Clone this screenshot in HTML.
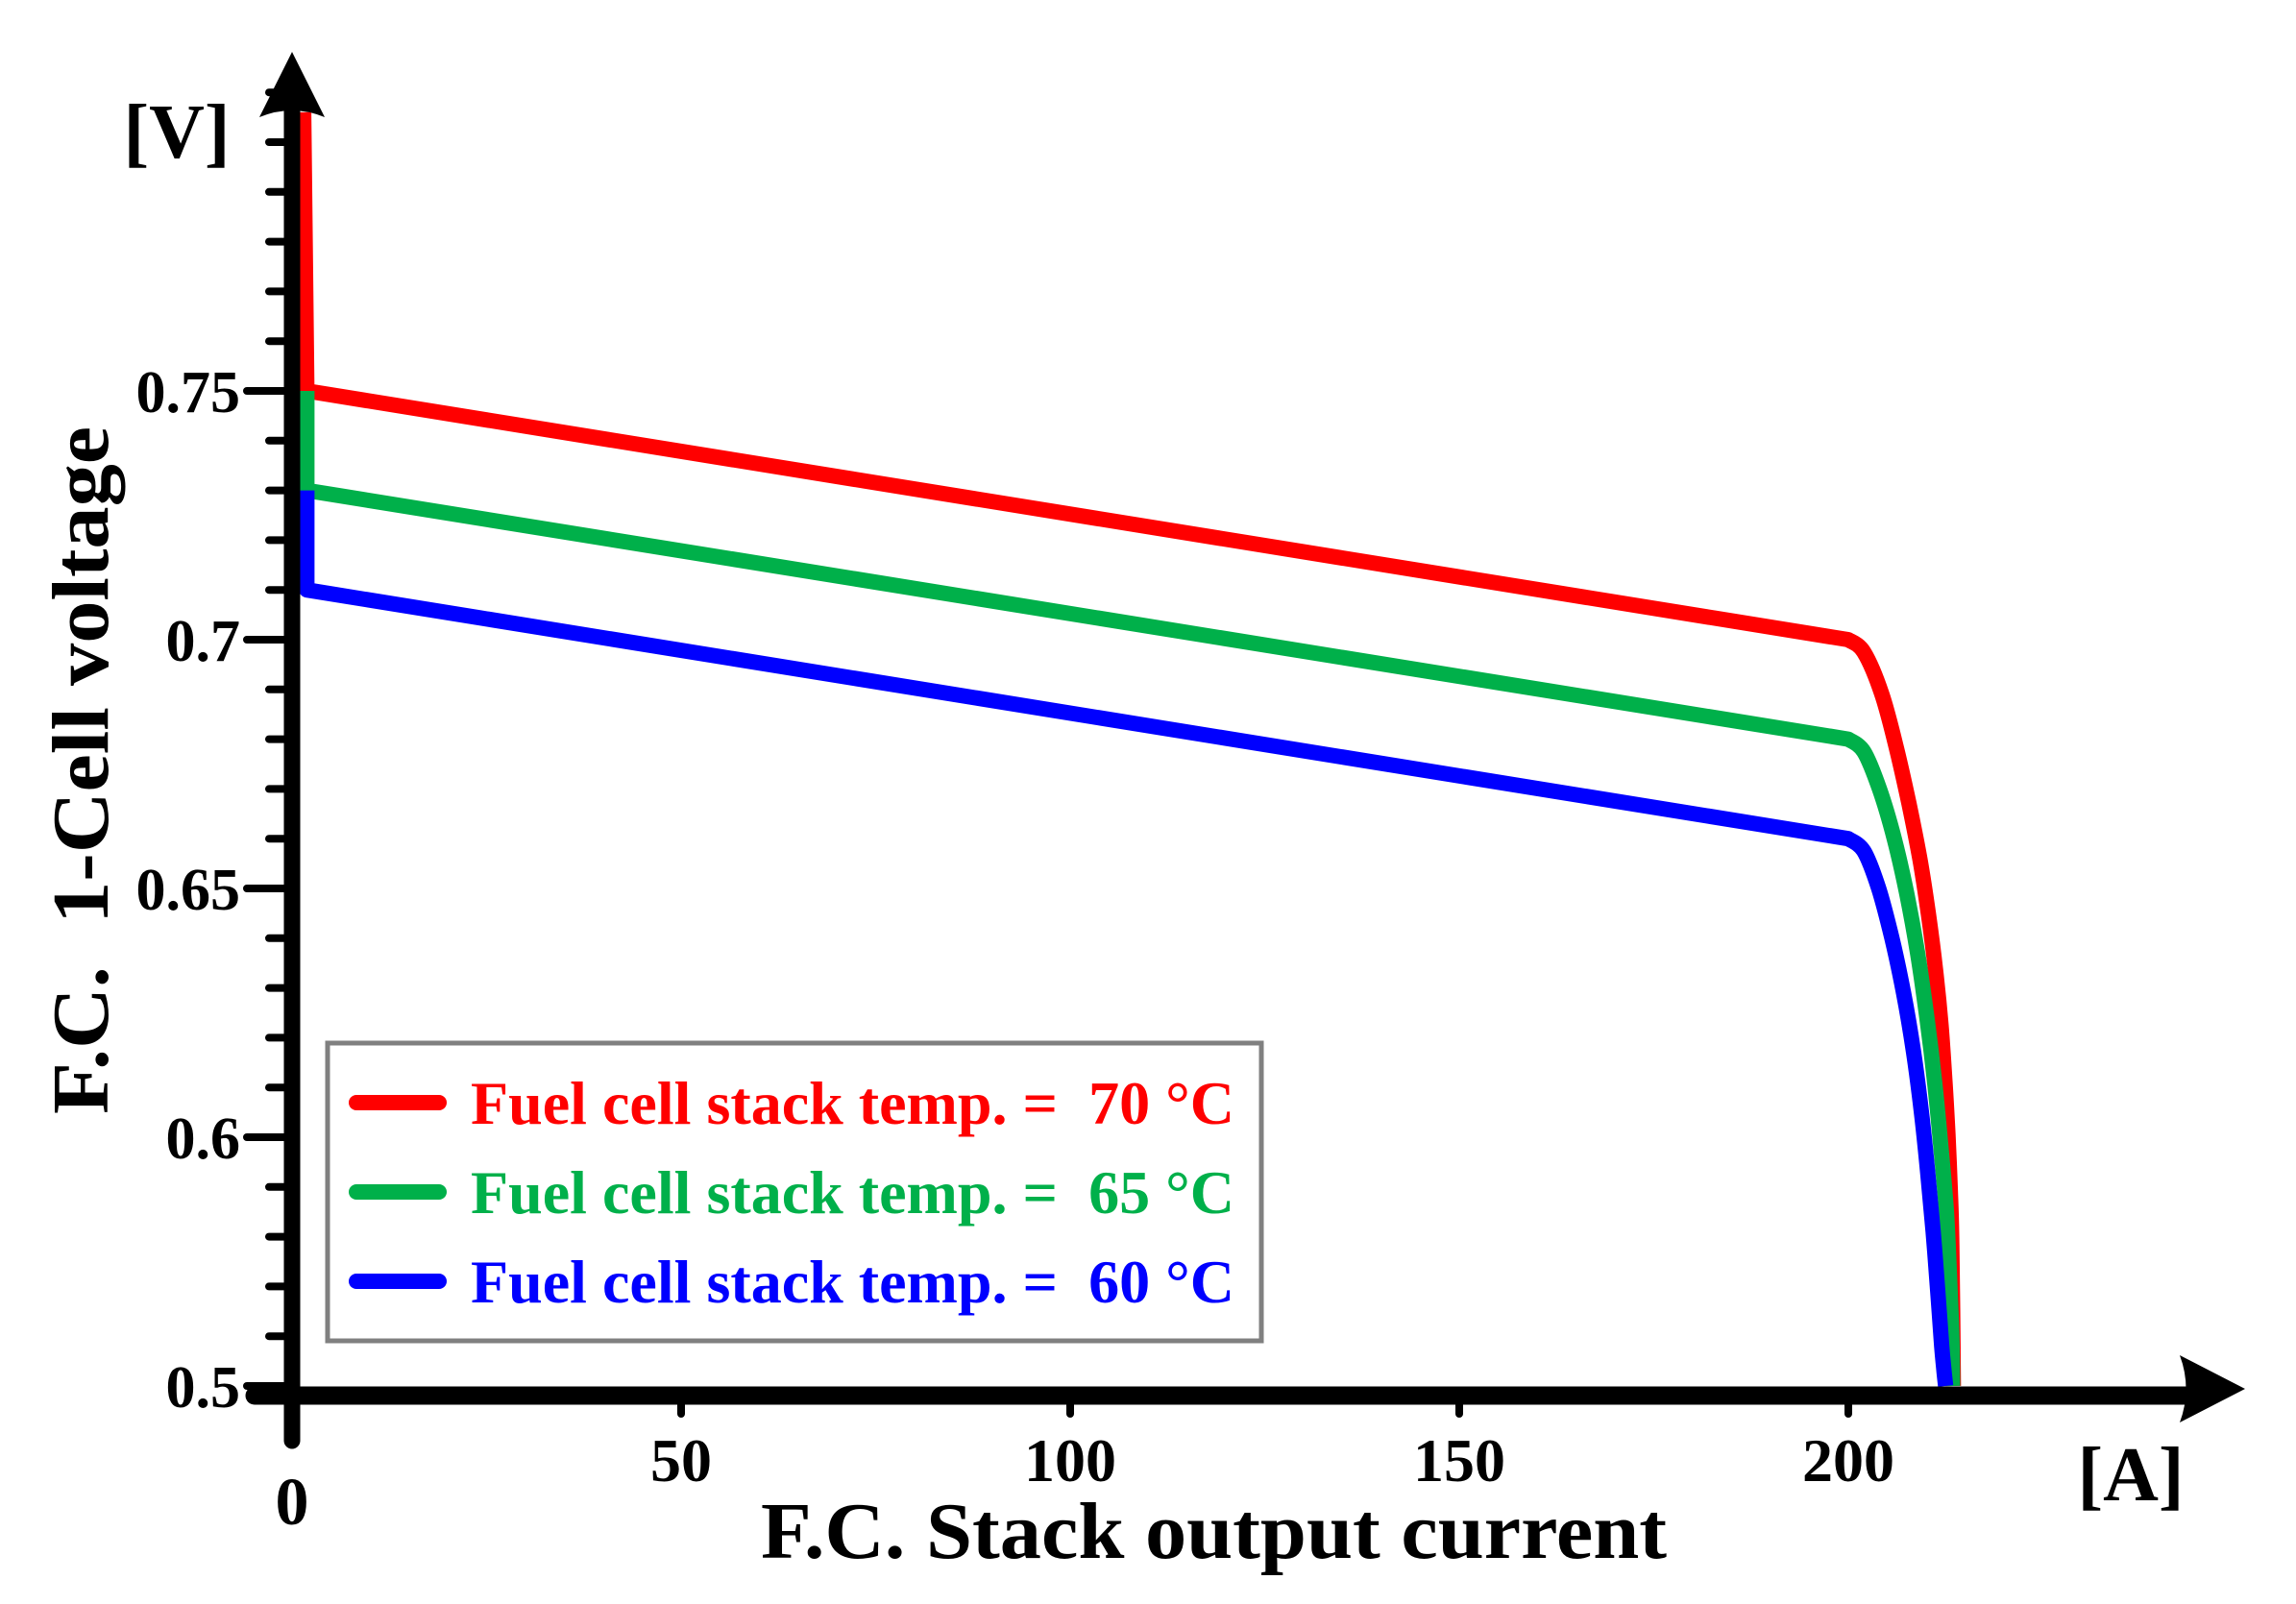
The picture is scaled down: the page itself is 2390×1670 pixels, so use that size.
<!DOCTYPE html>
<html><head><meta charset="utf-8">
<style>html,body{margin:0;padding:0;background:#fff;}svg{display:block;} text{white-space:pre;}</style>
</head><body>
<svg id="chart" width="2390" height="1670" viewBox="0 0 2390 1670" xmlns="http://www.w3.org/2000/svg" font-family="'Liberation Serif', serif" font-weight="bold">
<rect width="2390" height="1670" fill="#fff"/>
<g id="series"></g>
<g id="axes"></g>
<g id="legend"></g>
</svg>
<script>
const xTicks = [0, 50, 100, 150, 200];
const xTickLabels = ["0", "50", "100", "150", "200"];
const yTicks = [0.55, 0.6, 0.65, 0.7, 0.75];
const yTickLabels = ["0.5", "0.6", "0.65", "0.7", "0.75"];
const seriesNames = ["Fuel cell stack temp. =  70 °C", "Fuel cell stack temp. =  65 °C", "Fuel cell stack temp. =  60 °C"];
const seriesColors = ["#ff0000", "#00b04a", "#0000ff"];
const redI = [1.5, 1.9, 200, 202.0, 204.3, 206.2, 207.8, 209.2, 210.3, 211.2, 211.9, 212.4, 212.8, 213.1, 213.3, 213.5];
const redV = [0.806, 0.75, 0.70, 0.6975, 0.6891, 0.6781, 0.667, 0.6559, 0.6448, 0.6337, 0.6227, 0.6116, 0.6005, 0.5894, 0.5783, 0.55];
const greenI = [1.9, 1.9, 200, 202.0, 204.0, 205.9, 207.5, 208.9, 210.1, 211.1, 211.9, 212.6, 213.0, 213.3, 213.4];
const greenV = [0.75, 0.73, 0.68, 0.6775, 0.6700, 0.6600, 0.6490, 0.6370, 0.6240, 0.6110, 0.5980, 0.5850, 0.5720, 0.5600, 0.55];
const blueI = [1.9, 1.9, 200, 202.0, 203.9, 205.6, 207.1, 208.4, 209.4, 210.2, 210.9, 211.5, 212.0, 212.3, 212.5];
const blueV = [0.73, 0.71, 0.66, 0.6575, 0.6500, 0.6400, 0.6290, 0.6170, 0.6050, 0.5930, 0.5810, 0.5690, 0.5580, 0.5530, 0.55];

const NS = "http://www.w3.org/2000/svg";
function xs(i){ return 304 + i * 8.1; }
function ys(v){ return 407 + (0.75 - v) * 5180; }
function mk(tag, attrs, parent){ const e = document.createElementNS(NS, tag); for (const k in attrs) e.setAttribute(k, attrs[k]); parent.appendChild(e); return e; }
function smoothPath(P){
  let d = "M" + P[0][0].toFixed(1) + "," + P[0][1].toFixed(1) + " L" + P[1][0].toFixed(1) + "," + P[1][1].toFixed(1) + " L" + P[2][0].toFixed(1) + "," + P[2][1].toFixed(1);
  for (let i = 2; i < P.length - 1; i++) {
    const p0 = P[Math.max(i - 1, 2)], p1 = P[i], p2 = P[i + 1], p3 = P[Math.min(i + 2, P.length - 1)];
    const c1 = [p1[0] + (p2[0] - p0[0]) / 6, p1[1] + (p2[1] - p0[1]) / 6];
    const c2 = [p2[0] - (p3[0] - p1[0]) / 6, p2[1] - (p3[1] - p1[1]) / 6];
    d += " C" + c1[0].toFixed(1) + "," + c1[1].toFixed(1) + " " + c2[0].toFixed(1) + "," + c2[1].toFixed(1) + " " + p2[0].toFixed(1) + "," + p2[1].toFixed(1);
  }
  return d;
}

const gS = document.getElementById("series");
const allI = [redI, greenI, blueI], allV = [redV, greenV, blueV];
const sNames = ["series-70c", "series-65c", "series-60c"];
for (let s = 0; s < 3; s++) {
  const P = allI[s].map((iv, k) => [xs(iv), ys(allV[s][k])]);
  const pl = mk("path", {d: smoothPath(P), fill: "none", stroke: seriesColors[s], "stroke-width": 16, "stroke-linejoin": "round"}, gS);
  
  
}

const gA = document.getElementById("axes");
for (let k = 0; k <= 26; k++) {
  const v = 0.55 + k * 0.01;
  const major = yTicks.some(t => Math.abs(t - v) < 1e-6);
  const t = mk("line", {x1: major ? 257 : 280, x2: 304, y1: ys(v), y2: ys(v), stroke: "#000", "stroke-width": 8, "stroke-linecap": "round"}, gA);
  
  
}
yTicks.forEach((v, k) => {
  const t = mk("text", {x: 250, y: ys(v) + 22, "text-anchor": "end", "font-size": 62}, gA);
  t.textContent = yTickLabels[k];
  
  
});
xTicks.forEach((v, k) => {
  if (k > 0) {
    const t = mk("line", {x1: xs(v), x2: xs(v), y1: 1453, y2: 1472, stroke: "#000", "stroke-width": 8, "stroke-linecap": "round"}, gA);
    
    
  }
  const l = mk("text", {x: xs(v), y: k === 0 ? 1587 : 1542, "text-anchor": "middle", "font-size": k === 0 ? 70 : 64}, gA);
  l.textContent = xTickLabels[k];
  
  
});
let e;
e = mk("line", {x1: 304, x2: 304, y1: 115, y2: 1500, stroke: "#000", "stroke-width": 17, "stroke-linecap": "round"}, gA);
 
e = mk("line", {x1: 265, x2: 2275, y1: 1453, y2: 1453, stroke: "#000", "stroke-width": 19, "stroke-linecap": "round"}, gA);
 
e = mk("path", {d: "M304,54 L338,122 Q304,108 270,122 Z", fill: "#000"}, gA);
 
e = mk("path", {d: "M2337,1446 L2269,1411 Q2282,1446 2269,1481 Z", fill: "#000"}, gA);
 
e = mk("text", {x: 184, y: 164, "text-anchor": "middle", "font-size": 80}, gA);
e.textContent = "[V]";  
e = mk("text", {x: 2218, y: 1562, "text-anchor": "middle", "font-size": 80}, gA);
e.textContent = "[A]";  
e = mk("text", {x: 792, y: 1622, "font-size": 84, textLength: 943, lengthAdjust: "spacingAndGlyphs"}, gA);
e.textContent = "F.C. Stack output current";  
e = mk("text", {x: 0, y: 0, "font-size": 84, textLength: 716, lengthAdjust: "spacingAndGlyphs", transform: "translate(112,1160) rotate(-90)"}, gA);
e.textContent = "F.C.  1-Cell voltage";  

const gL = document.getElementById("legend");
e = mk("rect", {x: 341, y: 1086, width: 972, height: 310, fill: "#fff", stroke: "#808080", "stroke-width": 5}, gL);
 
const legY = [1148, 1241, 1334];
for (let s = 0; s < 3; s++) {
  const ln = mk("line", {x1: 371, x2: 457, y1: legY[s], y2: legY[s], stroke: seriesColors[s], "stroke-width": 16, "stroke-linecap": "round"}, gL);
  
  
  const tx = mk("text", {x: 490, y: legY[s] + 22, fill: seriesColors[s], "font-size": 64, textLength: 795, lengthAdjust: "spacingAndGlyphs"}, gL);
  tx.textContent = seriesNames[s];
  
  
}
</script>
</body></html>
